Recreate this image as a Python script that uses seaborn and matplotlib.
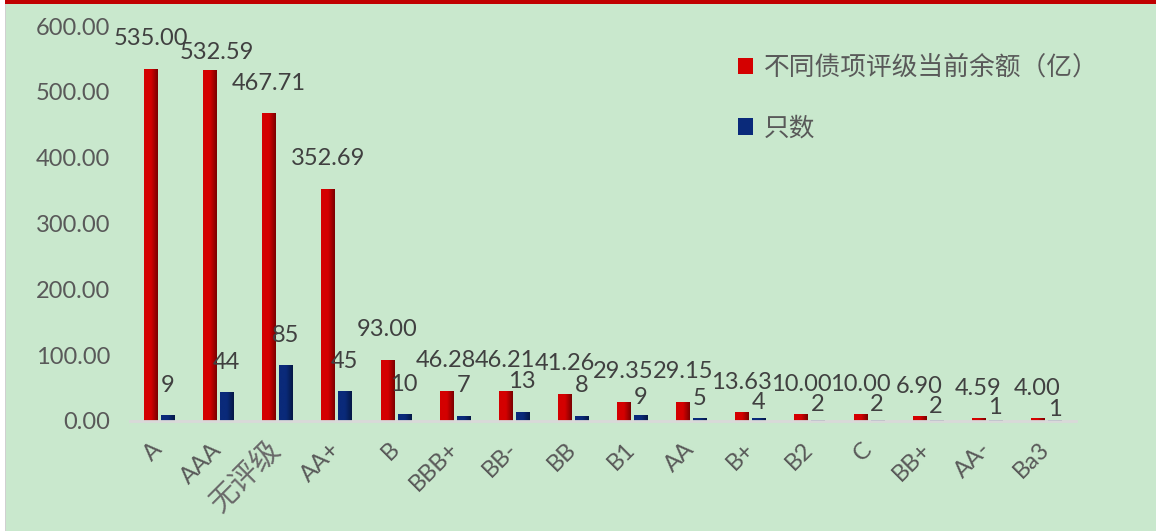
import numpy as np
import pandas as pd
import matplotlib
matplotlib.use("Agg")
import matplotlib.pyplot as plt
import matplotlib.patches as mpatches
import seaborn as sns

# chart data
categories = ['A', 'AAA', '无评级', 'AA+', 'B', 'BBB+', 'BB-', 'BB', 'B1', 'AA',
              'B+', 'B2', 'C', 'BB+', 'AA-', 'Ba3']
amount = [535.00, 532.59, 467.71, 352.69, 93.00, 46.28, 46.21, 41.26, 29.35, 29.15,
          13.63, 10.00, 10.00, 6.90, 4.59, 4.00]
count = [9, 44, 85, 45, 10, 7, 13, 8, 9, 5, 4, 2, 2, 2, 1, 1]
series_names = ['不同债项评级当前余额（亿）', '只数']

# label offsets (points) as placed in the original chart
amount_pad = [14, 5, 14, 14, 14, 14, 14, 14, 14, 14, 14, 14, 14, 14, 14, 14]
amount_dx = [0, 5, 0, 0, 0, 0, 0, 0, 0, 0, 0, 0, 0, 0, 0, 0]
count_pad = [14, 14, 14, 14, 14, 15, 15, 14, 5, 6.5, 3.5, 3.5, 3, 2, 2, 0]

BG = '#c9e8cd'
TXT = '#595959'
palette = {series_names[0]: '#d40000', series_names[1]: '#0a2a7a'}
dark = {series_names[0]: '#7a0000', series_names[1]: '#051845'}

sns.set_theme(style='white')
plt.rcParams['font.family'] = ['Lato', 'Noto Sans CJK SC', 'DejaVu Sans']

df = pd.DataFrame({
    'rating': categories * 2,
    'value': amount + count,
    'series': [series_names[0]] * len(categories) + [series_names[1]] * len(categories),
})

fig = plt.figure(figsize=(11.56, 5.31), dpi=100, facecolor=BG)
ax = fig.add_axes([129.5 / 1156, 0.2072, 946 / 1156, 0.7438])
ax.set_facecolor(BG)

sns.barplot(data=df, x='rating', y='value', hue='series', order=categories,
            hue_order=series_names, palette=palette, width=0.574, gap=0.233,
            ax=ax, legend=False, edgecolor='none', linewidth=0)

# horizontal gradient on every bar (bright left, dark right)
grad = np.linspace(0, 1, 64).reshape(1, -1)
for cont, name in zip(ax.containers, series_names):
    cmap = matplotlib.colors.LinearSegmentedColormap.from_list(
        'g', [palette[name], palette[name], dark[name]])
    for p in cont.patches:
        x0, y0 = p.get_x(), p.get_y()
        w, h = p.get_width(), p.get_height()
        if h <= 0:
            continue
        im = ax.imshow(grad, cmap=cmap, aspect='auto', extent=[x0, x0 + w, y0, y0 + h],
                       zorder=p.get_zorder() + 0.1)
        im.set_clip_path(p)

# value labels
red_cont, blue_cont = ax.containers[0], ax.containers[1]
for p, v, pad, dx in zip(red_cont.patches, amount, amount_pad, amount_dx):
    ax.annotate(f'{v:.2f}', (p.get_x() + p.get_width() / 2, p.get_height()),
                xytext=(dx, pad), textcoords='offset points', ha='center', va='bottom',
                fontsize=17, color='#404040')
for p, v, pad in zip(blue_cont.patches, count, count_pad):
    ax.annotate(f'{v}', (p.get_x() + p.get_width() / 2, p.get_height()),
                xytext=(0, pad), textcoords='offset points', ha='center', va='bottom',
                fontsize=17, color='#404040')

ax.set_xlim(-0.5, len(categories) - 0.5)
ax.set_ylim(0, 600)
ax.set_yticks(np.arange(0, 601, 100))
ax.set_yticklabels([f'{t:.2f}' for t in np.arange(0, 601, 100)])
ax.set_xlabel('')
ax.set_ylabel('')
ax.tick_params(axis='y', length=0, pad=14, labelsize=17, labelcolor=TXT)
ax.tick_params(axis='x', length=0, pad=18, labelsize=17, labelcolor=TXT)
for lbl in ax.get_xticklabels():
    lbl.set_rotation(45)
    lbl.set_ha('right')
    lbl.set_va('center')
    lbl.set_rotation_mode('anchor')
    if lbl.get_text() == '无评级':
        lbl.set_family(['Noto Sans CJK SC', 'DejaVu Sans'])
        lbl.set_fontweight('light')
        lbl.set_fontsize(21)
        lbl.set_color('#6a6a6a')

for s in ['top', 'right', 'left']:
    ax.spines[s].set_visible(False)
ax.spines['bottom'].set_color('#d9d9d9')
ax.spines['bottom'].set_linewidth(2)

handles = [mpatches.Patch(facecolor=palette[n], edgecolor='none') for n in series_names]
leg = ax.legend(handles, series_names, loc='upper left', frameon=False,
                handlelength=0.62, handleheight=0.62, handletextpad=0.4, labelspacing=1.35,
                labelcolor=TXT,
                prop={'family': ['Noto Sans CJK SC', 'DejaVu Sans'], 'size': 18.5})
leg.set_bbox_to_anchor((0.618, 0.94), transform=fig.transFigure)

# frame decoration: red top band and white left strip
fig.patches.append(mpatches.Rectangle((0, 1 - 4 / 531), 1, 4 / 531, transform=fig.transFigure,
                                      facecolor='#c00000', edgecolor='none', zorder=5))
fig.patches.append(mpatches.Rectangle((0, 0), 5 / 1156, 1, transform=fig.transFigure,
                                      facecolor='white', edgecolor='none', zorder=5))
fig.patches.append(mpatches.Rectangle((5 / 1156, 0), 1 / 1156, 1 - 4 / 531, transform=fig.transFigure,
                                      facecolor='#d0d0d0', edgecolor='none', zorder=5))

fig.savefig('out.png', dpi=100, facecolor=BG)
